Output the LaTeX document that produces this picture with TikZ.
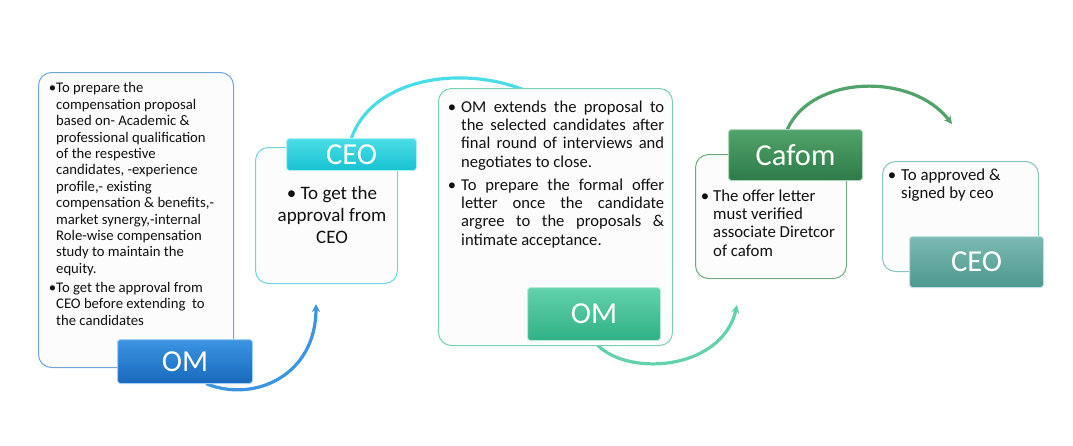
\documentclass[tikz,border=0pt]{standalone}
\usepackage{fontspec}
\setmainfont{Carlito}
\usepackage{tikz}
\usetikzlibrary{calc,arrows.meta}
\definecolor{blueline}{HTML}{6EA6DC}
\definecolor{bluetop}{HTML}{3C95E2}
\definecolor{bluebot}{HTML}{1868BC}
\definecolor{cyanline}{HTML}{6ED6E1}
\definecolor{cyantop}{HTML}{4ADDE7}
\definecolor{cyanbot}{HTML}{17C2D0}
\definecolor{mintline}{HTML}{7CCEB5}
\definecolor{minttop}{HTML}{62D2AC}
\definecolor{mintbot}{HTML}{31B185}
\definecolor{leafline}{HTML}{6EAC7F}
\definecolor{leaftop}{HTML}{52A26B}
\definecolor{leafbot}{HTML}{2E7B47}
\definecolor{sealine}{HTML}{8AC3C1}
\definecolor{seatop}{HTML}{7BBAB2}
\definecolor{seabot}{HTML}{4E988F}
\definecolor{cardbg}{HTML}{FCFCFC}
\definecolor{ink}{HTML}{111111}
\pgfdeclarelayer{behind}
\pgfsetlayers{behind,main}
\tikzset{
  card/.style={draw=#1line, line width=1pt, rounded corners=13pt, fill=cardbg, anchor=north west, inner sep=0pt},
  tag/.style={draw=#1top!45!white, line width=1pt, rounded corners=3pt, top color=#1top, bottom color=#1bot,
    text=white, font=\fontsize{30.5}{30.5}\selectfont, anchor=north west, inner sep=0pt},
  txt/.style={text=ink, align=left, inner sep=0pt, anchor=base west},
  flow/.style={draw=#1, line width=3.2pt, line cap=round},
  tip/.style={-{Stealth[length=8pt,width=8pt]}}
}

\begin{document}
\begin{tikzpicture}[x=1pt,y=-1pt]
  \useasboundingbox (0,0) rectangle (1073,445);

  \node[card=blue, minimum width=195pt, minimum height=295pt] (omBox) at (38,72) {};
  \node[card=cyan, minimum width=142pt, minimum height=136pt] (ceoBox) at (255,147) {};
  \node[card=mint, minimum width=234pt, minimum height=257pt] (offerBox) at (438,88) {};
  \node[card=leaf, minimum width=151pt, minimum height=124pt] (cafomBox) at (695,154) {};
  \node[card=sea, minimum width=156pt, minimum height=110pt] (signBox) at (882,161) {};

  \node[tag=blue, minimum width=135pt, minimum height=44pt] (omTag) at (117,339) {OM};
  \node[tag=cyan, minimum width=130pt, minimum height=32pt] (ceoTag) at (286,138) {CEO};
  \node[tag=mint, minimum width=133pt, minimum height=53pt] (offerTag) at (527,287) {OM};
  \node[tag=leaf, minimum width=134pt, minimum height=51pt] (cafomTag) at (728,129) {Cafom};
  \node[tag=sea, minimum width=134pt, minimum height=51pt] (signTag) at (909,236) {CEO};

  % text nodes sit on the baseline of their last line
  \node[txt, font=\fontsize{14.7}{16.4}\selectfont] (omText) at (56,325)
    {\llap{•}To prepare the\\compensation proposal\\based on- Academic \&\\professional qualification\\of the respestive\\candidates, -experience\\profile,- existing\\compensation \& benefits,-\\market synergy,-internal\\Role-wise compensation\\study to maintain the\\equity.\\[2.5pt]\llap{•}To get the approval from\\CEO before extending~ to\\the candidates};
  \node[txt, align=center, anchor=base, font=\fontsize{19}{22}\selectfont] (ceoText) at (332,243)
    {• To get the\\approval from\\CEO};
  \node[txt, font=\fontsize{16.6}{18.3}\selectfont] (offerText) at (461,245)
    {\llap{•\hspace{5pt}}\makebox[203pt][s]{OM extends the proposal to}\\
     \makebox[203pt][s]{the selected candidates after}\\
     \makebox[203pt][s]{final round of interviews and}\\
     negotiates to close.\\[4.7pt]
     \llap{•\hspace{5pt}}\makebox[203pt][s]{To prepare the formal offer}\\
     \makebox[203pt][s]{letter once the candidate}\\
     \makebox[203pt][s]{argree to the proposals \&}\\
     intimate acceptance.};
  \node[txt, font=\fontsize{16.8}{18.3}\selectfont] (cafomText) at (713,256)
    {\llap{•\hspace{4pt}}The offer letter\\must verified\\associate Diretcor\\of cafom};
  \node[txt, font=\fontsize{16.8}{18}\selectfont] (signText) at (901,198)
    {\llap{•\hspace{5pt}}To approved \&\\signed by ceo};

  \begin{pgfonlayer}{behind}
    \coordinate (tipA) at (316,304);
    \coordinate (endB) at (545,100);
    \coordinate (tipC) at (737,305);
    \coordinate (tipD) at (952,124);
    \draw[flow=bluetop, tip] ($(omTag.south)+(22,0)$) .. controls (255,403) and (316,375) .. (tipA);
    \draw[flow=cyantop] (ceoTag.north) .. controls (375,72) and (480,62) .. (endB);
    \draw[flow=minttop, tip] (offerTag.south) .. controls (622,378) and (722,372) .. (tipC);
    \draw[flow=leaftop, tip] ($(cafomTag.north)+(-8,0)$) .. controls (812,75) and (912,72) .. (tipD);
  \end{pgfonlayer}
\end{tikzpicture}
\end{document}
